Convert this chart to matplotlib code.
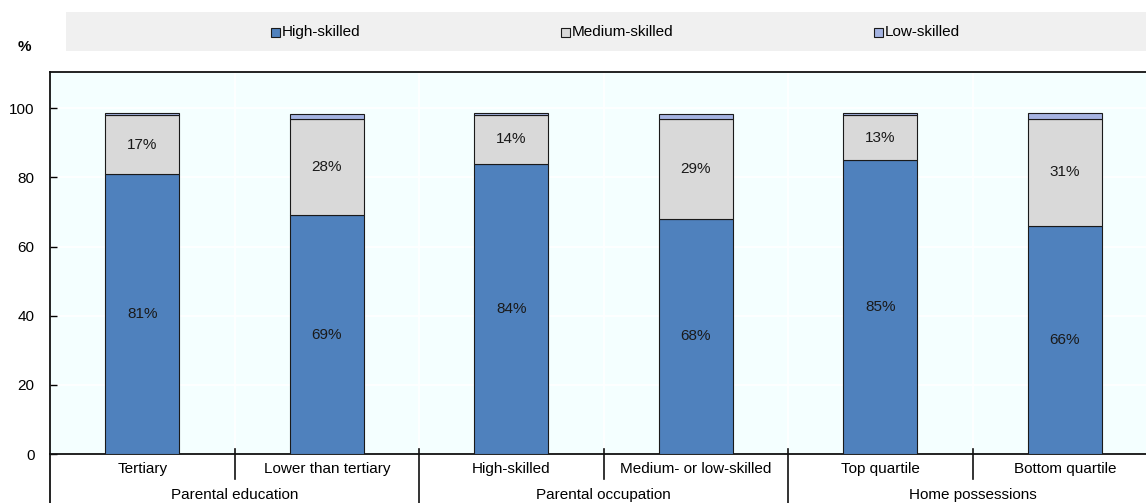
import matplotlib.pyplot as plt
from matplotlib.patches import Rectangle
from matplotlib.lines import Line2D
import numpy as np

plt.rcParams['font.family'] = ['Liberation Sans', 'DejaVu Sans']

categories = ['Tertiary', 'Lower than tertiary', 'High-skilled',
              'Medium- or low-skilled', 'Top quartile', 'Bottom quartile']
groups = ['Parental education', 'Parental occupation', 'Home possessions']
series_names = ['High-skilled', 'Medium-skilled', 'Low-skilled']
high_skilled = [81, 69, 84, 68, 85, 66]
medium_skilled = [17, 28, 14, 29, 13, 31]
low_skilled = [0.6, 1.3, 0.6, 1.3, 0.6, 1.6]

colors = ['#4F81BD', '#D9D9D9', '#A5B4E2']
fs = 11

fig = plt.figure(figsize=(11.46, 5.03), dpi=100)
ax = fig.add_axes([50 / 1146, 49 / 503, 1096 / 1146, 382 / 503])
ax.set_facecolor('#F4FFFF')

x = np.arange(len(categories))
bottom = np.zeros(len(categories))
for name, vals, col in zip(series_names, [high_skilled, medium_skilled, low_skilled], colors):
    vals = np.array(vals, dtype=float)
    ax.bar(x, vals, 0.4, bottom=bottom, color=col, edgecolor='#1a1a1a',
           linewidth=0.8, zorder=3, label=name)
    if name != 'Low-skilled':
        for xi, b, v in zip(x, bottom, vals):
            ax.text(xi, b + v / 2, f'{v:.0f}%', ha='center', va='center',
                    fontsize=fs, color='#1a1a1a', zorder=4)
    bottom += vals

ax.set_xlim(-0.5, 5.44)
ax.set_ylim(0, 110.5)
ax.set_yticks(range(0, 101, 20))
ax.tick_params(axis='y', direction='in', length=5, width=1, labelsize=fs, pad=11)
ax.set_xticks([])
ax.yaxis.grid(True, color='white', linewidth=1.2, zorder=0)
for b in np.arange(0.5, 5.5, 1):
    ax.axvline(b, color='white', linewidth=1.2, zorder=0)
ax.spines['right'].set_visible(False)
for side in ['left', 'bottom', 'top']:
    ax.spines[side].set_linewidth(1.3)
    ax.spines[side].set_color('#111111')

# category labels and group labels below the axis
trans = ax.get_xaxis_transform()
for xi, lab in zip(x, categories):
    ax.text(xi, -0.04, lab, transform=trans, ha='center', va='center', fontsize=fs)
for gi, g in enumerate(groups):
    ax.text(2 * gi + 0.5, -0.108, g, transform=trans, ha='center', va='center', fontsize=fs)
for b in np.arange(0.5, 5.5, 1):
    is_group = int(b + 0.5) % 2 == 0
    y_end = -0.13 if is_group else -0.065
    ax.add_line(Line2D([b, b], [0.013, y_end], transform=trans, color='#111111',
                       linewidth=1.2, clip_on=False))
ax.add_line(Line2D([-0.5, -0.5], [0, -0.13], transform=trans, color='#111111',
                   linewidth=1.3, clip_on=False))

fig.text(24 / 1146, 1 - 47 / 503, '%', ha='center', va='center', fontsize=fs, fontweight='bold')

# legend strip
fig.patches.append(Rectangle((66 / 1146, 1 - 51 / 503), 1080 / 1146, 39 / 503,
                             transform=fig.transFigure, facecolor='#F0F0F0',
                             edgecolor='none', zorder=0))
legend_x = [271, 561, 874]
for lx, name, col in zip(legend_x, series_names, colors):
    fig.patches.append(Rectangle((lx / 1146, 1 - 37 / 503), 9 / 1146, 9 / 503,
                                 transform=fig.transFigure, facecolor=col,
                                 edgecolor='#1a1a1a', linewidth=0.8, zorder=2))
    fig.text((lx + 11) / 1146, 1 - 32 / 503, name, ha='left', va='center', fontsize=fs)

fig.savefig('out.png', dpi=100)
